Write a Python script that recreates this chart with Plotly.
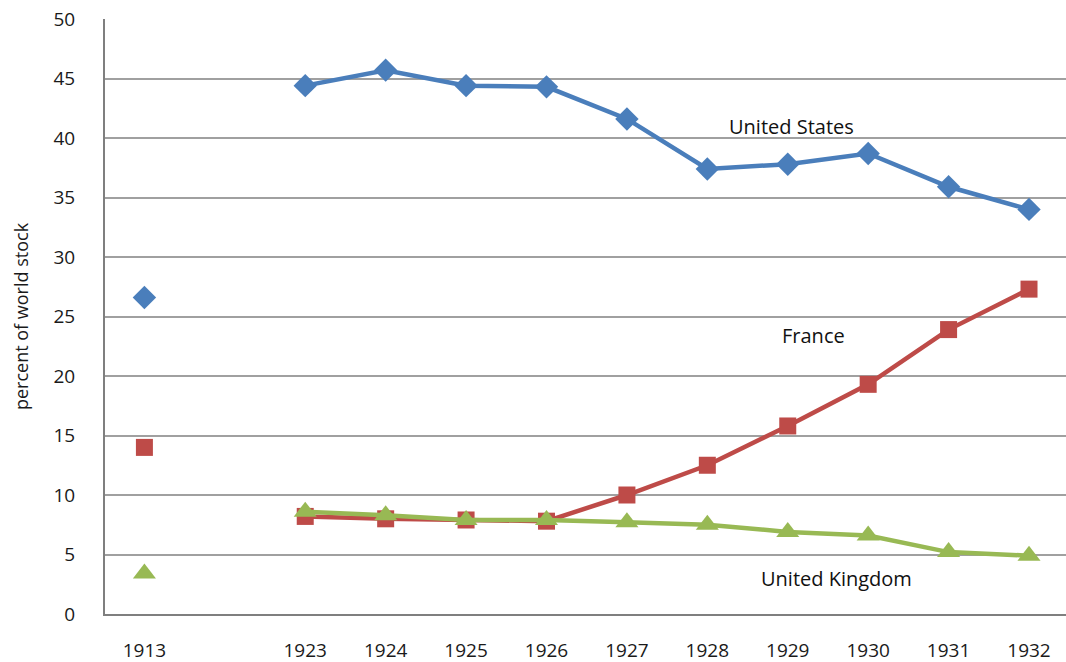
import plotly.graph_objects as go

years = ["1913", "1923", "1924", "1925", "1926", "1927", "1928", "1929", "1930", "1931", "1932"]
x_pos = [0, 2, 3, 4, 5, 6, 7, 8, 9, 10, 11]

us = [26.6, 44.4, 45.7, 44.4, 44.3, 41.6, 37.4, 37.8, 38.7, 35.9, 34.0]
france = [14.0, 8.2, 8.0, 7.9, 7.8, 10.0, 12.5, 15.8, 19.3, 23.9, 27.3]
uk = [3.4, 8.6, 8.3, 7.9, 7.9, 7.7, 7.5, 6.9, 6.6, 5.2, 4.9]

blue = "#4a7ebb"
red = "#be4b48"
green = "#98b954"

fig = go.Figure()

def add_series(vals, name, color, symbol, size):
    # isolated 1913 point
    fig.add_trace(go.Scatter(x=x_pos[:1], y=vals[:1], mode="markers", name=name,
                             marker=dict(symbol=symbol, size=size, color=color),
                             showlegend=False))
    fig.add_trace(go.Scatter(x=x_pos[1:], y=vals[1:], mode="lines+markers", name=name,
                             line=dict(color=color, width=4.5),
                             marker=dict(symbol=symbol, size=size, color=color),
                             showlegend=False))

add_series(us, "United States", blue, "diamond", 18)
add_series(france, "France", red, "square", 17)
add_series(uk, "United Kingdom", green, "triangle-up", 20)

label_font = dict(family="Open Sans, Liberation Sans, sans-serif", size=20, color="#111111")
fig.add_annotation(x=8.05, y=41.0, text="United States", showarrow=False, font=label_font)
fig.add_annotation(x=8.32, y=23.4, text="France", showarrow=False, font=label_font)
fig.add_annotation(x=8.60, y=3.0, text="United Kingdom", showarrow=False, font=label_font)

fig.update_layout(
    width=1066, height=662,
    margin=dict(l=105, r=0, t=19, b=48),
    paper_bgcolor="white", plot_bgcolor="white",
    font=dict(family="Open Sans, Liberation Sans, sans-serif", color="#1a1a1a"),
)
fig.update_xaxes(
    range=[-0.49, 11.46], tickmode="array", tickvals=x_pos, ticktext=years,
    showgrid=False, zeroline=False, showline=True, linecolor="#7f7f7f", linewidth=2,
    ticks="", tickfont=dict(size=19), ticklabelstandoff=18, automargin=False,
)
fig.update_yaxes(
    range=[0, 50], tickmode="array", tickvals=list(range(0, 51, 5)),
    showgrid=True, gridcolor="#a0a0a0", gridwidth=1.5, zeroline=False,
    showline=True, linecolor="#7f7f7f", linewidth=2, ticks="",
    tickfont=dict(size=19), ticklabelstandoff=24, automargin=False,
    title=dict(text="percent of world stock", font=dict(size=18), standoff=20),
)

fig.write_html("out.html", config={"displayModeBar": False},
               post_script="document.body.style.margin='0';document.body.style.overflow='hidden';")
